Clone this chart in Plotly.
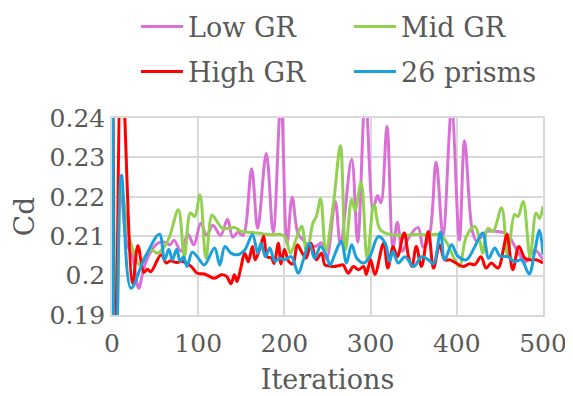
import plotly.graph_objects as go

# ---- data ----
low_gr_iter = [0, 3, 10, 17, 24, 31, 37, 44, 53, 61, 67, 72, 80, 88, 95, 103, 110, 117, 126, 134, 140, 146, 152,
               162, 169, 179, 187, 196, 203, 209, 216, 222, 229, 237, 243, 249, 259, 265, 278, 285, 294, 303, 308,
               312, 319, 326, 331, 337, 344, 355, 361, 368, 376, 384, 394, 403, 409, 418, 423, 435, 447, 458, 469,
               480, 490, 500]
low_gr_cd = [0.32, 0.16, 0.222, 0.2085, 0.2045, 0.1968, 0.2020, 0.2057, 0.2082, 0.2085, 0.2078, 0.2090, 0.2062,
             0.2105, 0.2078, 0.2133, 0.2102, 0.2128, 0.2102, 0.2143, 0.2098, 0.2110, 0.2102, 0.2271, 0.2120, 0.2310,
             0.2110, 0.2450, 0.2080, 0.2199, 0.2105, 0.2090, 0.2075, 0.2075, 0.2083, 0.2042, 0.2188, 0.2080, 0.2295,
             0.2085, 0.2460, 0.2170, 0.2203, 0.2185, 0.2379, 0.2072, 0.2135, 0.2062, 0.2095, 0.2122, 0.2072, 0.2098,
             0.2288, 0.2102, 0.2425, 0.2090, 0.2342, 0.2114, 0.2088, 0.2112, 0.2112, 0.2106, 0.2068, 0.2035, 0.2065,
             0.2040]

mid_gr_iter = [0, 5, 11, 18, 25, 32, 38, 45, 53, 61, 67, 77, 84, 91, 96, 102, 109, 116, 121, 128, 135, 142, 150,
               158, 169, 181, 196, 201, 207, 214, 220, 226, 233, 237, 242, 248, 257, 265, 271, 278, 282, 289, 296,
               304, 311, 323, 336, 352, 368, 380, 388, 396, 403, 411, 421, 427, 430, 436, 442, 452, 459, 467, 471,
               477, 485, 492, 496, 500]
mid_gr_cd = [0.30, 0.18, 0.222, 0.2118, 0.2060, 0.2027, 0.2048, 0.2065, 0.2057, 0.2074, 0.2100, 0.2167, 0.2048,
             0.2159, 0.2150, 0.2205, 0.2044, 0.2154, 0.2140, 0.2120, 0.2120, 0.2122, 0.2112, 0.2110, 0.2108, 0.2104,
             0.2104, 0.2098, 0.2057, 0.2095, 0.2125, 0.2057, 0.2133, 0.2150, 0.2195, 0.2062, 0.2185, 0.2330, 0.2065,
             0.2194, 0.2166, 0.2236, 0.2044, 0.2180, 0.2117, 0.2104, 0.2102, 0.2104, 0.2103, 0.2104, 0.2085, 0.2048,
             0.2023, 0.2099, 0.2125, 0.2085, 0.2057, 0.2120, 0.2112, 0.2172, 0.2048, 0.2155, 0.2150, 0.2188, 0.2048,
             0.2159, 0.2145, 0.2176]

high_gr_iter = [0, 4, 11, 24, 30, 37, 41, 45, 57, 63, 68, 74, 82, 92, 99, 107, 113, 119, 127, 133, 138, 142, 145,
                149, 154, 158, 163, 166, 171, 176, 180, 185, 188, 193, 196, 200, 205, 210, 215, 220, 225, 231, 237,
                243, 247, 251, 257, 263, 268, 274, 280, 286, 292, 295, 300, 305, 315, 320, 326, 331, 339, 344, 348,
                353, 359, 367, 373, 380, 386, 392, 399, 407, 415, 421, 428, 434, 440, 448, 454, 458, 465, 472, 479,
                485, 492, 500]
high_gr_cd = [0.32, 0.17, 0.256, 0.1980, 0.2076, 0.2008, 0.2016, 0.2010, 0.2053, 0.2032, 0.2038, 0.2033, 0.2036,
              0.2023, 0.2006, 0.2004, 0.1998, 0.1993, 0.2002, 0.1998, 0.1979, 0.2002, 0.1985, 0.2015, 0.2057, 0.2035,
              0.2074, 0.2040, 0.2065, 0.2100, 0.2048, 0.2045, 0.2030, 0.2082, 0.2030, 0.2066, 0.2036, 0.2030, 0.2078,
              0.2060, 0.2044, 0.2082, 0.2040, 0.2057, 0.2027, 0.2025, 0.2023, 0.2025, 0.2027, 0.2006, 0.2023, 0.2015,
              0.2023, 0.2003, 0.2040, 0.2003, 0.2082, 0.2019, 0.2074, 0.2048, 0.2108, 0.2048, 0.2023, 0.2074, 0.2023,
              0.2112, 0.2019, 0.2078, 0.2040, 0.2040, 0.2032, 0.2023, 0.2030, 0.2028, 0.2048, 0.2019, 0.2032, 0.2019,
              0.2066, 0.2104, 0.2015, 0.2074, 0.2044, 0.2040, 0.2040, 0.2032]

prisms_iter = [0, 4, 11, 22, 37, 55, 61, 66, 70, 75, 79, 83, 87, 93, 99, 107, 119, 125, 131, 138, 146, 154, 163,
               169, 173, 178, 183, 189, 194, 200, 208, 216, 222, 229, 235, 242, 249, 253, 259, 266, 272, 278, 284,
               292, 299, 309, 317, 322, 326, 332, 340, 350, 359, 367, 373, 381, 386, 394, 401, 411, 421, 430, 437,
               444, 450, 459, 467, 475, 484, 490, 496, 500]
prisms_cd = [0.30, 0.16, 0.2255, 0.1968, 0.2040, 0.2105, 0.2040, 0.2067, 0.2040, 0.2067, 0.2036, 0.2048, 0.2023,
             0.2059, 0.2048, 0.2027, 0.2070, 0.2027, 0.2074, 0.2057, 0.2053, 0.2065, 0.2104, 0.2057, 0.2082, 0.2048,
             0.2070, 0.2036, 0.2044, 0.2040, 0.2048, 0.2006, 0.2040, 0.2082, 0.2044, 0.2074, 0.2048, 0.2027, 0.2057,
             0.2087, 0.2032, 0.2078, 0.2044, 0.2032, 0.2048, 0.2099, 0.2082, 0.2036, 0.2061, 0.2032, 0.2048, 0.2023,
             0.2048, 0.2040, 0.2030, 0.2110, 0.2040, 0.2078, 0.2050, 0.2040, 0.2074, 0.2108, 0.2044, 0.2070, 0.2050,
             0.2048, 0.2036, 0.2040, 0.2004, 0.2057, 0.2115, 0.2053]

series_names = ["Low GR", "Mid GR", "High GR", "26 prisms"]
x_tick_values = [0, 100, 200, 300, 400, 500]
y_tick_values = [0.19, 0.20, 0.21, 0.22, 0.23, 0.24]
y_tick_labels = ["0.19", "0.2", "0.21", "0.22", "0.23", "0.24"]

# ---- styling ----
FONT = "DejaVu Serif"
GREY = "#595959"
GRID = "#d9d9d9"
colors = ["#da70d6", "#92d050", "#ff0000", "#1aa1dc"]
legend_ids = ["legend", "legend2", "legend3", "legend4"]
legend_pos = [(128, 19), (341, 19), (128, 64), (341, 64)]

fig = go.Figure()
data = [(low_gr_iter, low_gr_cd), (mid_gr_iter, mid_gr_cd), (high_gr_iter, high_gr_cd), (prisms_iter, prisms_cd)]
for (xs, ys), name, c, lg in zip(data, series_names, colors, legend_ids):
    fig.add_trace(go.Scatter(x=xs, y=ys, name=name, mode="lines",
                             line=dict(color=c, width=3, shape="spline", smoothing=1.0),
                             legend=lg))

legend_layouts = {}
for lg, (px, py) in zip(legend_ids, legend_pos):
    legend_layouts[lg] = dict(orientation="h", font=dict(family=FONT, size=27, color=GREY),
                              bgcolor="rgba(0,0,0,0)", xref="container", yref="container",
                              xanchor="left", yanchor="middle", itemwidth=42,
                              x=px / 573, y=1 - py / 396)

fig.update_layout(
    width=573, height=396,
    margin=dict(l=104, r=38, t=110, b=89, autoexpand=False),
    plot_bgcolor="white", paper_bgcolor="white",
    font=dict(family=FONT, color=GREY, size=25),
    xaxis=dict(range=[0, 500], tickvals=x_tick_values, showgrid=True, gridcolor=GRID, gridwidth=1.5,
               zeroline=False, showline=True, linecolor=GRID, linewidth=1.5, mirror=True,
               tickfont=dict(family=FONT, size=25, color=GREY), ticks="", ticklabelstandoff=5,
               title=dict(text="Iterations", font=dict(family=FONT, size=27, color=GREY), standoff=13)),
    yaxis=dict(range=[0.19, 0.24], tickvals=y_tick_values, ticktext=y_tick_labels, showgrid=True,
               gridcolor=GRID, gridwidth=1.5, zeroline=False, showline=True, linecolor=GRID, linewidth=1.5,
               mirror=True, tickfont=dict(family=FONT, size=25, color=GREY), ticks="", ticklabelstandoff=0,
               title=dict(text="Cd", font=dict(family=FONT, size=28, color=GREY), standoff=12)),
    showlegend=True,
    **legend_layouts,
)

fig.write_html("out.html")
